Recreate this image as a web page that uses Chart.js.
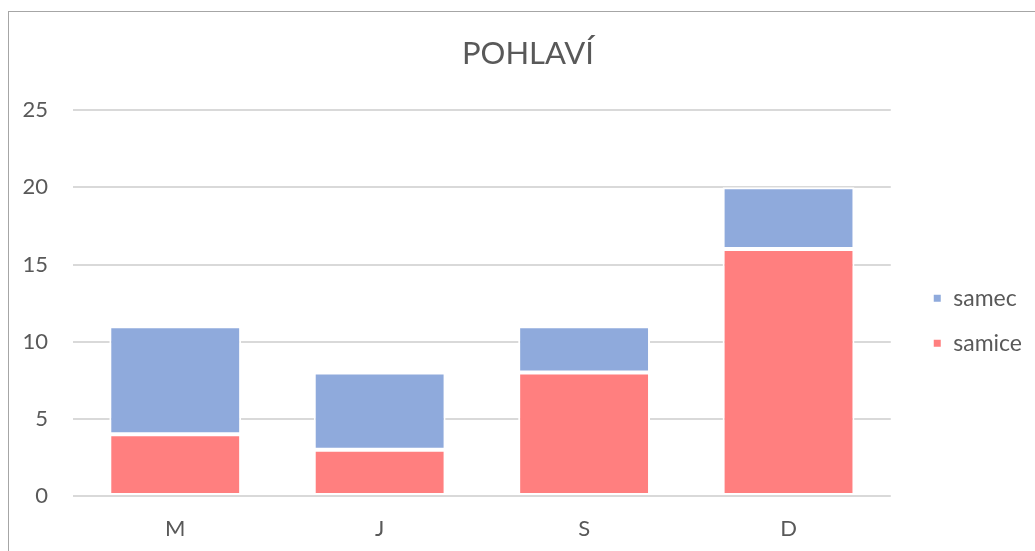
<!DOCTYPE html>
<html>
<head>
<meta charset="utf-8">
<script src="https://cdn.jsdelivr.net/npm/chart.js@4"></script>
<style>
  html, body { margin: 0; padding: 0; background: #fff; overflow: hidden; }
  #frame {
    position: absolute; left: 8px; top: 11px;
    width: 1040px; height: 560px;
    border-left: 1px solid #a6a6a6; border-top: 1px solid #a6a6a6;
  }
  #wrap { position: absolute; left: 0; top: 0; width: 1038px; height: 539px; }
</style>
</head>
<body>
<div id="frame"><div id="wrap"><canvas id="chart"></canvas></div></div>
<script>
const labels = ['M', 'J', 'S', 'D'];
const samice = [4, 3, 8, 16];
const samec = [7, 5, 3, 4];
const yTicks = [0, 5, 10, 15, 20, 25];

const textColor = '#595959';
const fontFamily = 'Lato, "Open Sans", sans-serif';

const data = {
  labels: labels,
  datasets: [
    {
      label: 'samice',
      backgroundColor: '#ff7f7f',
      borderColor: '#ffffff',
      borderWidth: 2,
      borderSkipped: false,
      data: samice,
    },
    {
      label: 'samec',
      backgroundColor: '#8faadc',
      borderColor: '#ffffff',
      borderWidth: 2,
      borderSkipped: false,
      data: samec,
    },
  ],
};

// empty axes used only as spacers around the legend
const spacer = (w, weight) => ({
  position: 'right',
  display: true,
  weight: weight,
  grid: { display: false, drawTicks: false },
  border: { display: false },
  ticks: { display: false },
  afterFit: (s) => { s.width = w; },
});

const config = {
  type: 'bar',
  data: data,
  options: {
    responsive: true,
    maintainAspectRatio: false,
    animation: false,
    datasets: {
      bar: { barPercentage: 1, categoryPercentage: 0.645 },
    },
    scales: {
      x: {
        stacked: true,
        grid: { display: false, drawTicks: false },
        border: { display: false },
        ticks: { color: textColor, padding: 20, font: { family: fontFamily, size: 22 } },
        afterFit: (s) => { s.height = 55; },
      },
      y: {
        stacked: true,
        min: 0,
        max: 25,
        afterBuildTicks: (s) => { s.ticks = yTicks.map(v => ({ value: v })); },
        grid: { color: '#d9d9d9', lineWidth: 2, drawTicks: false },
        border: { display: false },
        ticks: { color: textColor, padding: 25, font: { family: fontFamily, size: 22 } },
        afterFit: (s) => { s.width = 64; },
      },
      gapIn: spacer(20, 0),
      gapOut: spacer(15, 3000),
    },
    plugins: {
      legend: {
        position: 'right',
        reverse: true,
        title: {
          display: true,
          text: ' ',
          padding: { top: 32, bottom: 32 },
          font: { size: 12 },
        },
        labels: {
          boxWidth: 9,
          boxHeight: 9,
          padding: 22,
          color: textColor,
          font: { family: fontFamily, size: 23 },
        },
      },
      title: {
        display: true,
        text: 'POHLAVÍ',
        color: textColor,
        padding: { top: 23, bottom: 38 },
        font: { family: fontFamily, size: 31, weight: 'normal' },
      },
      tooltip: { enabled: false },
    },
  },
};

const myChart = new Chart(document.getElementById('chart'), config);
</script>
</body>
</html>
